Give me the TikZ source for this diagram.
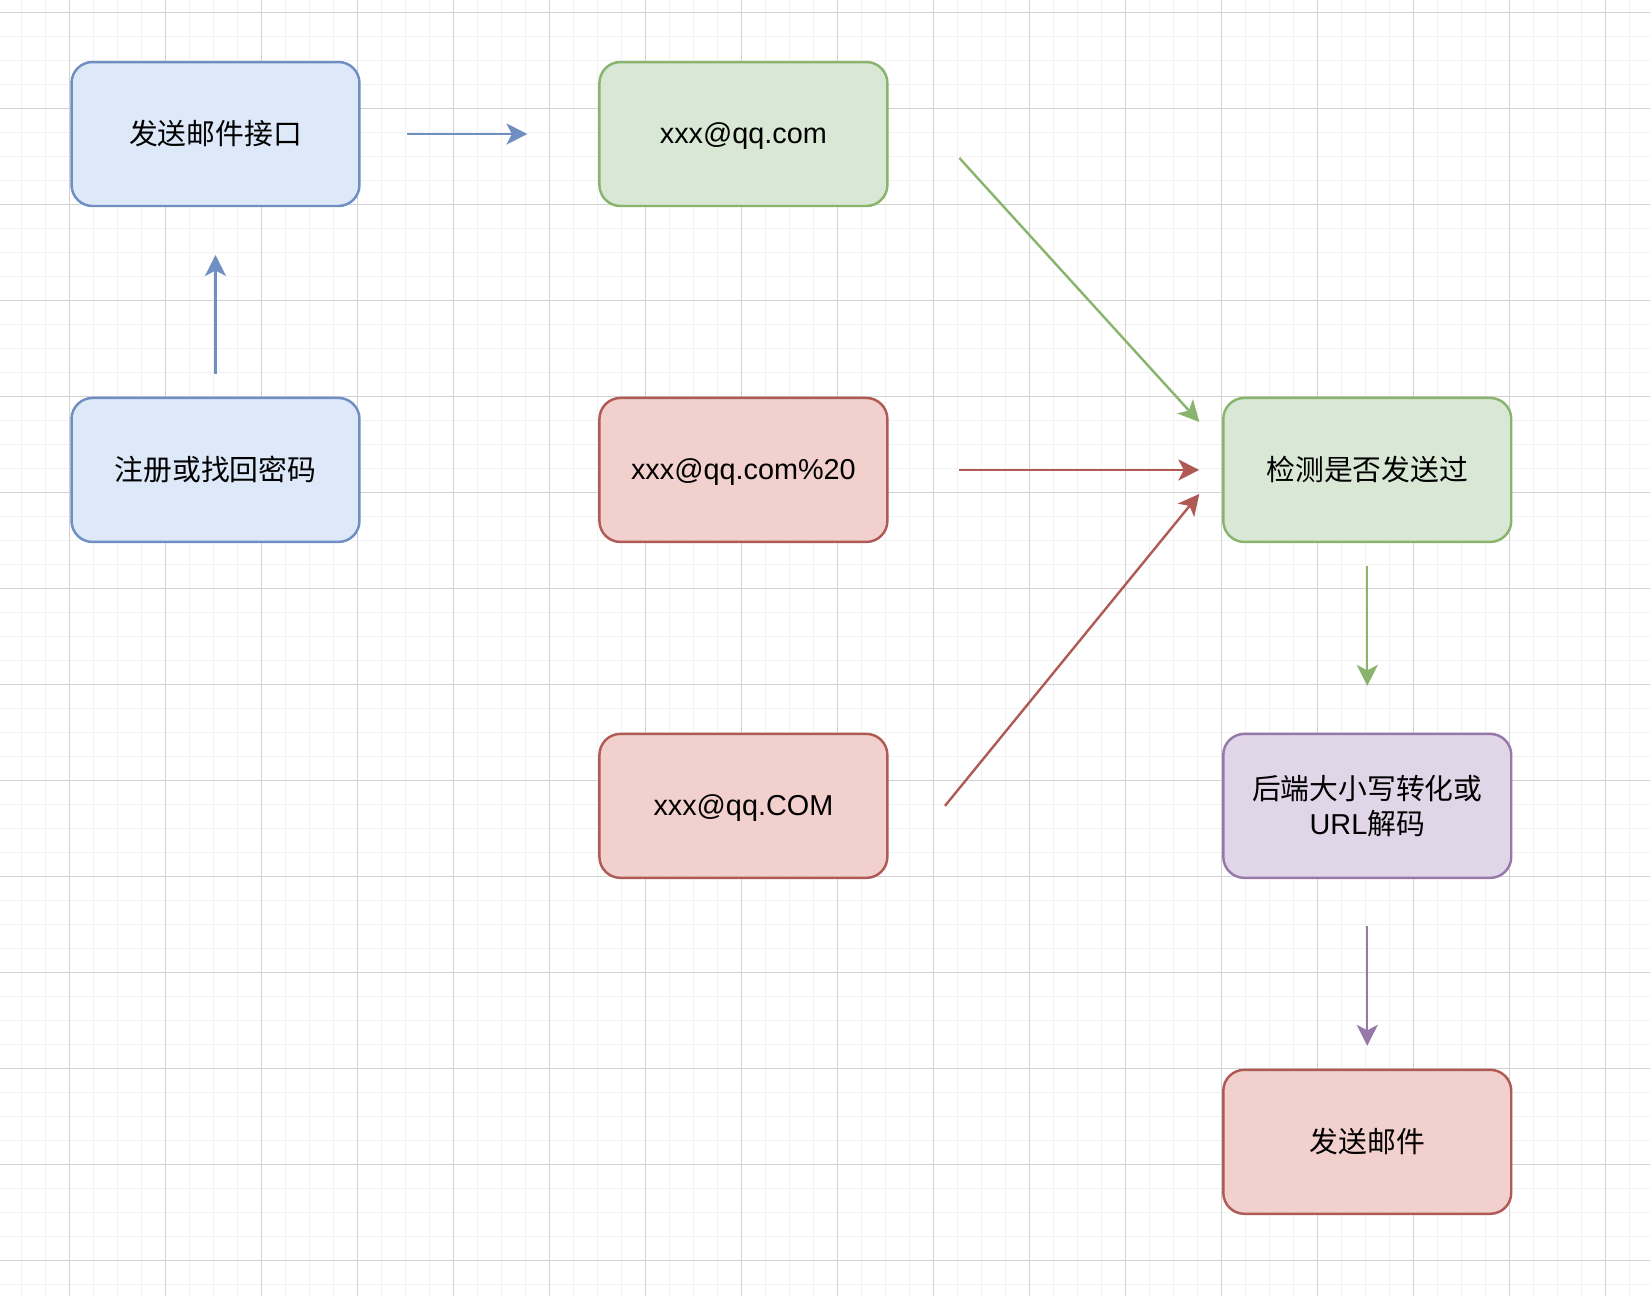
\documentclass[tikz,border=0pt]{standalone}
\usepackage{fontspec}
\setmainfont{Liberation Sans}
\newfontfamily\cjkfont{Noto Sans CJK SC}
\usepackage{xcolor}
\usepackage{tikz}
\usetikzlibrary{arrows.meta, positioning, calc}
\definecolor{myblue}{HTML}{6F8FC2}
\definecolor{mybluefill}{HTML}{DDE8F9}
\definecolor{mygreen}{HTML}{88B46D}
\definecolor{mygreenfill}{HTML}{D9E8D5}
\definecolor{myred}{HTML}{B05A55}
\definecolor{myredfill}{HTML}{F1D0CE}
\definecolor{mypurple}{HTML}{9679A8}
\definecolor{mypurplefill}{HTML}{E1D5E8}
\definecolor{mygridminor}{HTML}{F2F2F2}
\definecolor{mygridmajor}{HTML}{D2D2D2}
\tikzset{
basebox/.style={
rounded corners=0.42cm,
line width=1.4pt,
minimum width=5.76cm,
minimum height=2.88cm,
outer sep=0pt,
inner sep=2pt,
align=center,
font=\fontsize{16.4}{19.7}\selectfont
},
bluebox/.style={
basebox,
draw=myblue,
fill=mybluefill
},
greenbox/.style={
basebox,
draw=mygreen,
fill=mygreenfill
},
redbox/.style={
basebox,
draw=myred,
fill=myredfill
},
purplebox/.style={
basebox,
draw=mypurple,
fill=mypurplefill
},
latintext/.style={
text height=14.84pt,
text depth=3.48pt
},
flow/.style={
-{Stealth[length=4.2mm,width=4.2mm,inset=1.1mm]},
line width=1.36pt
},
blueflow/.style={flow, draw=myblue},
greenflow/.style={flow, draw=mygreen},
redflow/.style={flow, draw=myred},
purpleflow/.style={flow, draw=mypurple},
minorgrid/.style={draw=mygridminor, line width=0.65pt},
majorgrid/.style={draw=mygridmajor, line width=0.65pt}
}

\begin{document}
\begin{tikzpicture}[
x=0.02cm,
y=-0.02cm
]

% background and grid
\fill[white] (0,0) rectangle (1650,1296);
\useasboundingbox (0,0) rectangle (1650,1296);
\foreach \gx in {21.3,45.3,...,1650} {
  \draw[minorgrid] (\gx,0) -- (\gx,1296);
}
\foreach \gy in {12.3,36.3,...,1296} {
  \draw[minorgrid] (0,\gy) -- (1650,\gy);
}
\foreach \gx in {69.3,165.3,...,1650} {
  \draw[majorgrid] (\gx,0) -- (\gx,1296);
}
\foreach \gy in {12.3,108.3,...,1296} {
  \draw[majorgrid] (0,\gy) -- (1650,\gy);
}

\node[bluebox] (sendapi) at (215.5,134) {\cjkfont 发送邮件接口};
\node[bluebox, below=3.84cm of sendapi] (register) {\cjkfont 注册或找回密码};

\node[greenbox, latintext, right=4.8cm of sendapi] (plainaddr) {xxx@qq.com};
\node[redbox, latintext, below=3.84cm of plainaddr] (spaceaddr) {xxx@qq.com\%20};
\node[redbox, latintext, below=3.84cm of spaceaddr] (upperaddr) {xxx@qq.COM};

\node[greenbox, right=6.72cm of spaceaddr] (check) {\cjkfont 检测是否发送过};
\node[purplebox, below=3.84cm of check] (normalize)
  {{\cjkfont 后端大小写转化或}\\URL{\cjkfont 解码}};
\node[redbox, below=3.84cm of normalize] (sendmail) {\cjkfont 发送邮件};

% free arrow ends
\coordinate (regtop) at ($(register.north)+(0,-24)$);
\coordinate (apibottom) at ($(sendapi.south)+(0,49)$);
\coordinate (apiright) at ($(sendapi.east)+(48,0)$);
\coordinate (plainleft) at ($(plainaddr.west)+(-72,0)$);
\coordinate (plainout) at ($(plainaddr.east)+(72,24)$);
\coordinate (spaceout) at ($(spaceaddr.east)+(72,0)$);
\coordinate (upperout) at ($(upperaddr.east)+(57.6,0)$);
\coordinate (checkin1) at ($(check.west)+(-24,-48)$);
\coordinate (checkin2) at ($(check.west)+(-24,0)$);
\coordinate (checkin3) at ($(check.west)+(-24,24)$);
\coordinate (checkout) at ($(check.south)+(0,24)$);
\coordinate (normin) at ($(normalize.north)+(0,-48)$);
\coordinate (normout) at ($(normalize.south)+(0,48)$);
\coordinate (mailin) at ($(sendmail.north)+(0,-24)$);

\draw[blueflow] (regtop) -- (apibottom);
\draw[blueflow] (apiright) -- (plainleft);
\draw[greenflow] (plainout) -- (checkin1);
\draw[redflow] (spaceout) -- (checkin2);
\draw[redflow] (upperout) -- (checkin3);
\draw[greenflow] (checkout) -- (normin);
\draw[purpleflow] (normout) -- (mailin);

\end{tikzpicture}
\end{document}
